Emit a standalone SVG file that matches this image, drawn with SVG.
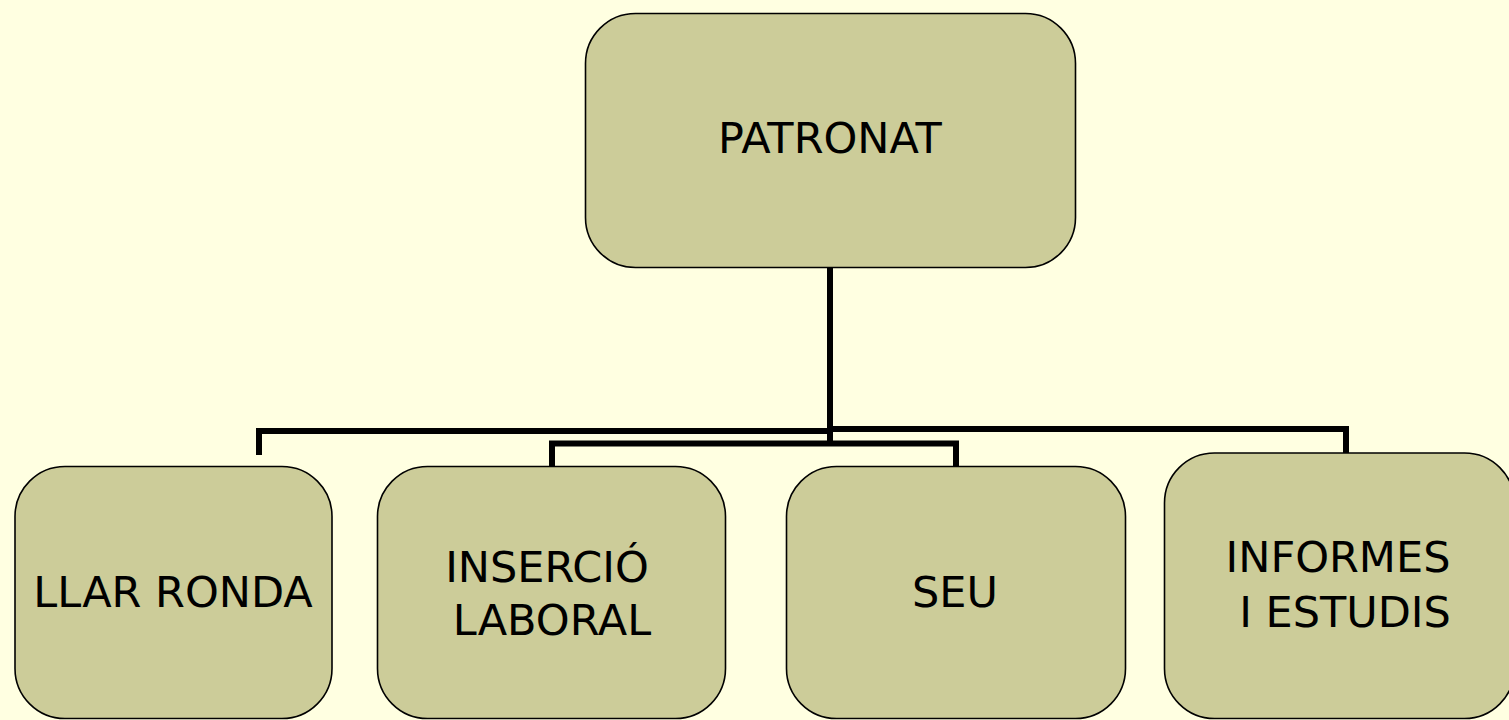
<svg xmlns="http://www.w3.org/2000/svg" width="1509" height="720" viewBox="0 0 1509 720">
<style>
.box{fill:#CCCC99;stroke:#000;stroke-width:1.6}
.lbl{font-family:"DejaVu Sans",Verdana,sans-serif;font-size:43px;fill:#000;text-anchor:middle}
.con{fill:none;stroke:#000;stroke-width:6;stroke-linecap:butt;stroke-linejoin:miter}
</style>
<rect width="1509" height="720" fill="#FFFFE1"/>
<g id="connectors">
<path class="con" d="M830,268 V446"/>
<path class="con" d="M259,455 V431 H830"/>
<path class="con" d="M830,429 H1346 V453"/>
<path class="con" d="M552,467 V443.5 H956 V467"/>
</g>
<g id="patronat">
<rect class="box" x="585.5" y="13.5" width="490" height="254" rx="50" ry="50"/>
<text class="lbl" x="830" y="153">PATRONAT</text>
</g>
<g id="llar-ronda">
<rect class="box" x="15" y="466.5" width="317" height="252" rx="50" ry="50"/>
<text class="lbl" x="173" y="607">LLAR RONDA</text>
</g>
<g id="insercio-laboral">
<rect class="box" x="377.5" y="466.5" width="348" height="252" rx="50" ry="50"/>
<text class="lbl" x="547" y="582">INSERCIÓ</text>
<text class="lbl" x="552" y="635">LABORAL</text>
</g>
<g id="seu">
<rect class="box" x="786.5" y="466.5" width="339" height="252" rx="50" ry="50"/>
<text class="lbl" x="955" y="607">SEU</text>
</g>
<g id="informes-estudis">
<rect class="box" x="1164.5" y="453" width="350" height="265.5" rx="50" ry="50"/>
<text class="lbl" x="1338" y="572">INFORMES</text>
<text class="lbl" x="1345" y="627">I ESTUDIS</text>
</g>
</svg>
